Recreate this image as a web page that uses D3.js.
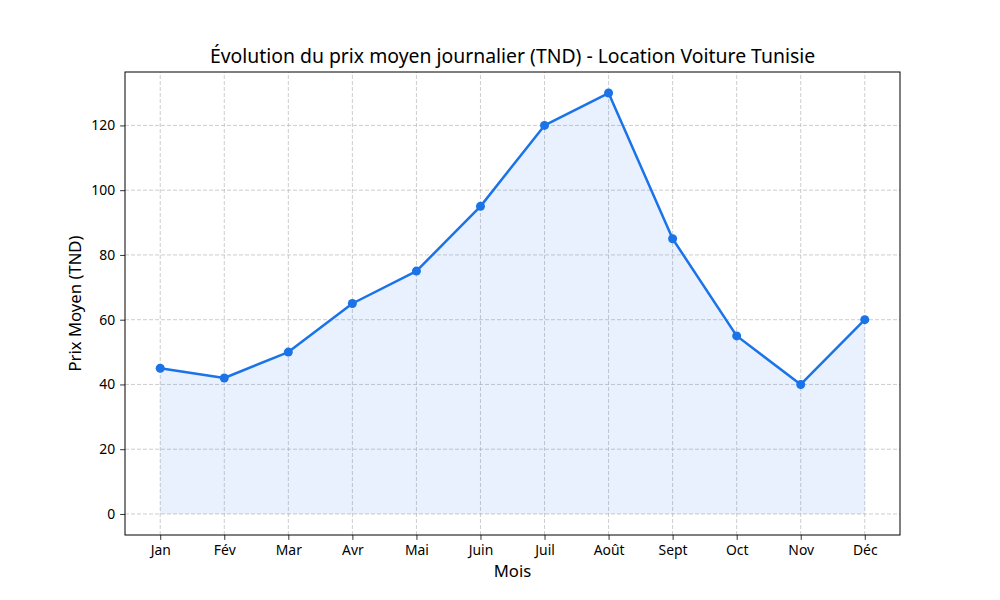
<!DOCTYPE html>
<html>
<head>
<meta charset="utf-8">
<script src="https://cdn.jsdelivr.net/npm/d3@7"></script>
<style>
  body { margin: 0; background: #fff; }
  svg { font-family: "Noto Sans", "Open Sans", sans-serif; }
</style>
</head>
<body>
<svg id="chart" width="1000" height="600"></svg>
<script>
const months = ["Jan", "Fév", "Mar", "Avr", "Mai", "Juin", "Juil", "Août", "Sept", "Oct", "Nov", "Déc"];
const prices = [45, 42, 50, 65, 75, 95, 120, 130, 85, 55, 40, 60];
const yTicks = [0, 20, 40, 60, 80, 100, 120];

const svg = d3.select("#chart");
const margin = {left: 125, right: 100, top: 72, bottom: 65};
const width = 1000, height = 600;

// matplotlib-like 5% margins
const x = d3.scaleLinear().domain([-0.55, months.length - 1 + 0.55]).range([margin.left, width - margin.right]);
const y = d3.scaleLinear().domain([-6.5, 136.5]).range([height - margin.bottom, margin.top]);

const idx = d3.range(months.length);

// grid
const grid = svg.append("g");
grid.selectAll("line.v").data(idx).join("line")
  .attr("x1", d => x(d)).attr("x2", d => x(d))
  .attr("y1", y.range()[0]).attr("y2", y.range()[1])
  .attr("stroke", "#b0b0b0").attr("stroke-opacity", 0.8)
  .attr("stroke-dasharray", "4,2").attr("stroke-width", 0.8);
grid.selectAll("line.h").data(yTicks).join("line")
  .attr("x1", x.range()[0]).attr("x2", x.range()[1])
  .attr("y1", d => y(d)).attr("y2", d => y(d))
  .attr("stroke", "#b0b0b0").attr("stroke-opacity", 0.8)
  .attr("stroke-dasharray", "4,2").attr("stroke-width", 0.8);

// area
svg.append("path")
  .datum(idx)
  .attr("fill", "#1a73e8").attr("fill-opacity", 0.1)
  .attr("d", d3.area().x(i => x(i)).y0(y(0)).y1(i => y(prices[i])));

// line
svg.append("path")
  .datum(idx)
  .attr("fill", "none").attr("stroke", "#1a73e8").attr("stroke-width", 2.5)
  .attr("stroke-linejoin", "round")
  .attr("d", d3.line().x(i => x(i)).y(i => y(prices[i])));

svg.append("g").selectAll("circle").data(idx).join("circle")
  .attr("cx", i => x(i)).attr("cy", i => y(prices[i])).attr("r", 4.5)
  .attr("fill", "#1a73e8");

// axes
const xAxis = svg.append("g")
  .attr("transform", `translate(0,${height - margin.bottom})`)
  .call(d3.axisBottom(x).tickValues(idx).tickFormat(i => months[i]).tickSize(4.9).tickPadding(4.9).tickSizeOuter(0));
const yAxis = svg.append("g")
  .attr("transform", `translate(${margin.left},0)`)
  .call(d3.axisLeft(y).tickValues(yTicks).tickSize(4.9).tickPadding(4.9).tickSizeOuter(0));
[xAxis, yAxis].forEach(a => {
  a.select(".domain").remove();
  a.selectAll("text").attr("font-size", 13.9).attr("fill", "#000").attr("font-family", "Noto Sans, sans-serif");
  a.selectAll(".tick line").attr("stroke", "#000").attr("stroke-width", 0.8);
});

// frame
svg.append("rect")
  .attr("x", x.range()[0]).attr("y", y.range()[1])
  .attr("width", x.range()[1] - x.range()[0]).attr("height", y.range()[0] - y.range()[1])
  .attr("fill", "none").attr("stroke", "#000").attr("stroke-width", 1);

// labels
svg.append("text").attr("x", (x.range()[0] + x.range()[1]) / 2).attr("y", 63)
  .attr("text-anchor", "middle").attr("font-size", 19.4)
  .text("Évolution du prix moyen journalier (TND) - Location Voiture Tunisie");
svg.append("text").attr("x", (x.range()[0] + x.range()[1]) / 2).attr("y", 577)
  .attr("text-anchor", "middle").attr("font-size", 16.7).text("Mois");
svg.append("text").attr("transform", `translate(81,${(y.range()[0] + y.range()[1]) / 2}) rotate(-90)`)
  .attr("text-anchor", "middle").attr("font-size", 16.7).text("Prix Moyen (TND)");
</script>
</body>
</html>
